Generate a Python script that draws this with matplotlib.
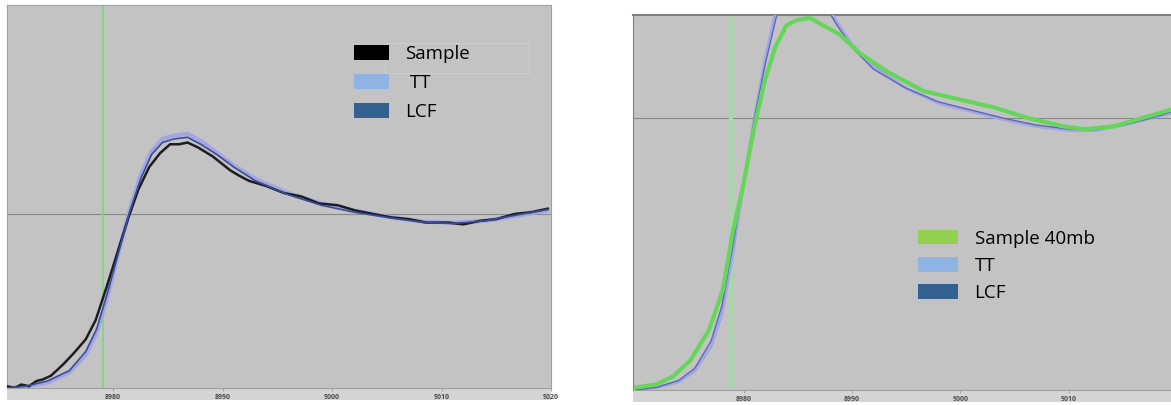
import matplotlib.pyplot as plt
from matplotlib.patches import Patch, Rectangle

plt.rcParams['font.family'] = ['Open Sans', 'DejaVu Sans']

# energy ticks (eV) and the edge marker
ticks = [8980, 8990, 9000, 9010, 9020]
tick_labels = ['8980', '8990', '9000', '9010', '9020']
edge_e = 8979.1

# left panel: sample and the two fits
e_s1 = [8970.3, 8971.0, 8971.6, 8972.3, 8973.0, 8973.6, 8974.3, 8975.0, 8975.5, 8976.4,
        8977.5, 8978.4, 8979.4, 8980.4, 8981.4, 8982.3, 8983.3, 8984.3, 8985.2, 8986.0,
        8986.8, 8987.8, 8989.1, 8990.7, 8991.5, 8992.4, 8994.0, 8995.6, 8997.2, 8998.8,
        9000.5, 9002.1, 9003.7, 9005.4, 9007.0, 9008.6, 9010.6, 9012.0, 9013.5, 9015.0,
        9016.7, 9018.2, 9019.7]
mu_s1 = [0.01, 0.00, 0.02, 0.01, 0.04, 0.05, 0.07, 0.11, 0.14, 0.20,
         0.28, 0.39, 0.58, 0.78, 0.98, 1.14, 1.27, 1.35, 1.40, 1.40,
         1.41, 1.38, 1.33, 1.25, 1.22, 1.19, 1.16, 1.12, 1.10, 1.06,
         1.05, 1.02, 1.00, 0.98, 0.97, 0.95, 0.95, 0.94, 0.96, 0.97,
         1.00, 1.01, 1.03]

e_tt1 = [8970.3, 8972.0, 8974.0, 8976.0, 8977.5, 8978.5, 8979.5, 8980.5, 8981.5, 8982.5,
         8983.5, 8984.5, 8985.5, 8986.8, 8988.0, 8989.5, 8991.0, 8993.0, 8996.0, 8999.0,
         9002.0, 9005.5, 9008.5, 9011.0, 9014.0, 9017.0, 9019.7]
mu_tt1 = [0.00, 0.01, 0.03, 0.09, 0.19, 0.32, 0.53, 0.78, 1.02, 1.22,
          1.36, 1.43, 1.45, 1.46, 1.42, 1.35, 1.28, 1.20, 1.12, 1.06,
          1.02, 0.98, 0.955, 0.95, 0.96, 0.99, 1.02]
mu_lcf1 = [0.00, 0.01, 0.04, 0.10, 0.21, 0.34, 0.55, 0.78, 1.01, 1.20,
           1.34, 1.41, 1.43, 1.44, 1.40, 1.34, 1.27, 1.19, 1.11, 1.05,
           1.01, 0.975, 0.95, 0.945, 0.96, 0.995, 1.025]

# right panel: 40mb sample and the two fits
e_s2 = [8970.1, 8971.9, 8973.5, 8975.1, 8976.8, 8978.1, 8979.0, 8980.0, 8980.9, 8981.9,
        8982.9, 8983.9, 8984.8, 8986.1, 8987.4, 8988.8, 8990.7, 8993.3, 8996.6, 8999.8,
        9003.1, 9006.3, 9009.5, 9011.5, 9014.1, 9016.7, 9019.3]
mu_s2 = [0.01, 0.02, 0.05, 0.11, 0.22, 0.37, 0.58, 0.76, 0.95, 1.13,
         1.26, 1.34, 1.36, 1.37, 1.34, 1.31, 1.24, 1.17, 1.10, 1.07,
         1.04, 1.00, 0.97, 0.96, 0.97, 1.00, 1.03]

e_tt2 = [8970.0, 8972.0, 8974.0, 8975.5, 8977.0, 8978.0, 8979.0, 8980.0, 8981.0, 8982.0,
         8983.0, 8984.0, 8985.5, 8987.0, 8988.5, 8990.0, 8992.0, 8995.0, 8998.0, 9001.0,
         9004.0, 9007.0, 9010.0, 9012.5, 9015.0, 9017.5, 9019.6]
mu_tt2 = [0.00, 0.01, 0.03, 0.07, 0.16, 0.28, 0.50, 0.76, 1.00, 1.22,
          1.40, 1.50, 1.53, 1.48, 1.36, 1.27, 1.19, 1.11, 1.055, 1.025,
          0.995, 0.97, 0.955, 0.955, 0.975, 1.00, 1.02]
mu_lcf2 = [0.00, 0.01, 0.035, 0.08, 0.18, 0.31, 0.53, 0.77, 1.00, 1.20,
           1.37, 1.46, 1.49, 1.45, 1.35, 1.26, 1.18, 1.11, 1.06, 1.03,
           1.00, 0.975, 0.96, 0.958, 0.975, 1.00, 1.025]

bg = '#c3c3c3'
tt_col = '#a4a6e4'
lcf_col = '#3a4f94'

fig = plt.figure(figsize=(11.71, 4.05), dpi=100)
fig.patch.set_facecolor('white')

# grey strips holding the tick labels
fig.add_artist(Rectangle((7 / 1171, 5 / 405), 544 / 1171, 12 / 405, transform=fig.transFigure,
                         facecolor='#d4d4d4', edgecolor='none', zorder=-1))
fig.add_artist(Rectangle((633 / 1171, 3 / 405), 538 / 1171, 12 / 405, transform=fig.transFigure,
                         facecolor='#d4d4d4', edgecolor='none', zorder=-1))

ax1 = fig.add_axes([7 / 1171, 17 / 405, 544 / 1171, 383 / 405])
ax2 = fig.add_axes([633 / 1171, 15 / 405, 540 / 1171, 375 / 405])

for ax in (ax1, ax2):
    ax.set_facecolor(bg)
    ax.axhline(1.0, color='#8a8a8a', lw=0.8, zorder=1)
    ax.tick_params(axis='x', length=2, width=0.6, color='#999999', pad=2,
                   labelsize=5, labelcolor='#4a4a4a')
    ax.set_yticks([])
    for side in ax.spines:
        ax.spines[side].set_color('#a0a0a0')
        ax.spines[side].set_linewidth(0.8)

ax1.set_xlim(8970.3, 9019.9)
ax1.set_xticks(ticks)
ax1.set_xticklabels(tick_labels, fontweight='bold')
ax2.set_xlim(8969.8, 9019.6)
ax2.set_xticks(ticks[:4])
ax2.set_xticklabels(tick_labels[:4], fontweight='bold')

ax1.set_ylim(0, 2.2)
ax1.axvline(edge_e, color='#7fd67f', lw=1.3, zorder=2)
ax1.plot(e_tt1, mu_tt1, color=tt_col, lw=3.0, zorder=3)
ax1.plot(e_s1, mu_s1, color='#1c1c24', lw=1.8, zorder=4)
ax1.plot(e_tt1, mu_lcf1, color=lcf_col, lw=1.2, zorder=5)

ax2.set_ylim(0, 1.38)
ax2.spines['right'].set_visible(False)
ax2.spines['left'].set_color('#808080')
ax2.spines['top'].set_color('#808080')
ax2.spines['top'].set_linewidth(1.5)
ax2.axvline(edge_e - 0.3, color='#a8d8a8', lw=3.0, zorder=2)
ax2.plot(e_tt2, mu_tt2, color=tt_col, lw=2.2, zorder=3)
ax2.plot(e_tt2, mu_lcf2, color='#5a6ab8', lw=1.0, zorder=4)
ax2.plot(e_s2, mu_s2, color='#66d65a', lw=3.0, zorder=5)

h1 = [Patch(facecolor='#000000', edgecolor='none'),
      Patch(facecolor='#8fb4e3', edgecolor='none'),
      Patch(facecolor='#34608f', edgecolor='none')]
ax1.legend(h1, ['Sample', ' TT', 'LCF'], loc='upper left',
           bbox_to_anchor=(0.62, 0.921), frameon=False, fontsize=13.5,
           handlelength=1.9, handleheight=0.85, handletextpad=0.85,
           labelspacing=0.6, borderpad=0)
ax1.add_patch(Rectangle((0.695, 0.822), 0.265, 0.08, transform=ax1.transAxes,
                        facecolor='none', edgecolor='#d0d0d0', lw=0.6))

h2 = [Patch(facecolor='#92d050', edgecolor='none'),
      Patch(facecolor='#8fb4e3', edgecolor='none'),
      Patch(facecolor='#34608f', edgecolor='none')]
ax2.legend(h2, ['Sample 40mb', 'TT', 'LCF'], loc='upper left',
           bbox_to_anchor=(0.511, 0.453), frameon=False, fontsize=13.5,
           handlelength=2.1, handleheight=0.85, handletextpad=0.9,
           labelspacing=0.5, borderpad=0)

fig.savefig('out.png', dpi=100, facecolor='white')
